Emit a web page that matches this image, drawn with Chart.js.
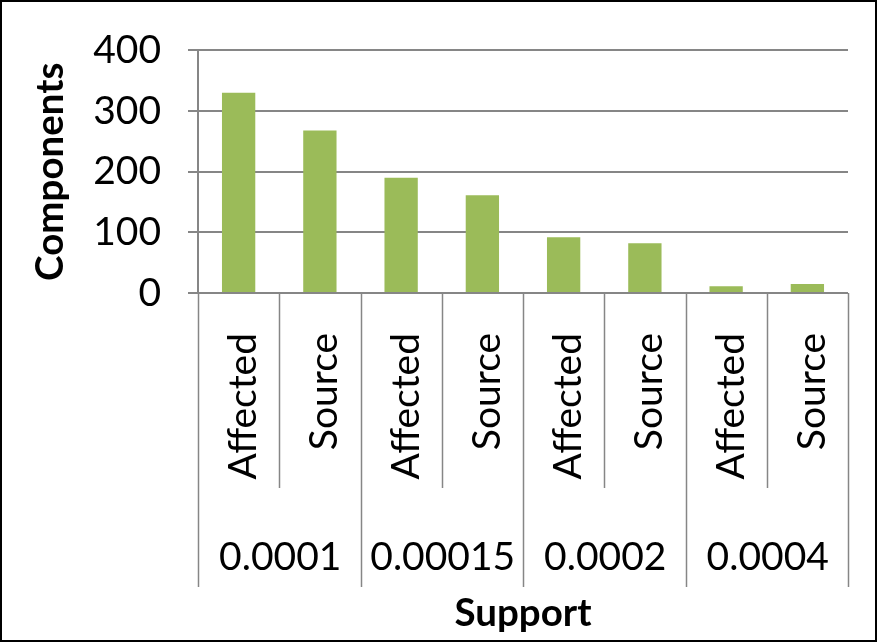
<!DOCTYPE html>
<html>
<head>
<meta charset="utf-8">
<script src="https://cdn.jsdelivr.net/npm/chart.js@4/dist/chart.umd.min.js"></script>
<style>
  html, body { margin: 0; padding: 0; background: #ffffff; }
  #wrap { width: 877px; height: 642px; }
</style>
</head>
<body>
<div id="wrap"><canvas id="chart" width="877" height="642"></canvas></div>
<script>
// Support thresholds (outer category level) and component roles (inner level)
const supportLevels = ['0.0001', '0.00015', '0.0002', '0.0004'];
const roles = ['Affected', 'Source'];

// Number of components per support threshold
const affectedCounts = [330, 190, 92, 11];
const sourceCounts = [268, 161, 82, 15];

// Y axis range
const yMin = 0, yMax = 400, yStep = 100;

// Flatten the two-level categories into one bar per (support, role)
const innerLabels = [];
const componentValues = [];
supportLevels.forEach((s, i) => {
  innerLabels.push(roles[0], roles[1]);
  componentValues.push(affectedCounts[i], sourceCounts[i]);
});

const FONT = 'Lato, "Open Sans", sans-serif';
const GRID = '#868686';
const TICK_SIZE = 39;
const TITLE_SIZE = 38.5;

// Separator lines under the category axis: short ones between roles,
// long ones between support groups.
const separatorPlugin = {
  id: 'separators',
  afterDraw(chart) {
    const xs = chart.scales.x;
    const xg = chart.scales.x2;
    const ctx = chart.ctx;
    const n = innerLabels.length;
    ctx.save();
    ctx.strokeStyle = GRID;
    ctx.lineWidth = 1.5;
    for (let i = 0; i <= n; i++) {
      const px = Math.round(xs.getPixelForValue(i - 0.5)) + 0.5;
      const isGroup = i % roles.length === 0;
      const bottom = isGroup ? xg.top + 99 : xs.bottom;
      ctx.beginPath();
      ctx.moveTo(px, xs.top);
      ctx.lineTo(px, bottom);
      ctx.stroke();
    }
    ctx.restore();
  }
};

// Black frame around the whole chart
const framePlugin = {
  id: 'frame',
  afterDraw(chart) {
    const ctx = chart.ctx;
    ctx.save();
    ctx.strokeStyle = '#000000';
    ctx.lineWidth = 2;
    ctx.strokeRect(1, 1, chart.width - 2, chart.height - 2);
    ctx.restore();
  }
};

// Category axes reserve no side padding for their labels
function fitCategoryAxis(height) {
  return (scale) => {
    scale.height = height;
    scale.paddingLeft = 0;
    scale.paddingRight = 0;
  };
}

new Chart(document.getElementById('chart'), {
  type: 'bar',
  data: {
    labels: innerLabels,
    datasets: [{
      label: 'Components',
      data: componentValues,
      backgroundColor: '#9bbb59',
      borderWidth: 0,
      barPercentage: 0.41,
      categoryPercentage: 1.0,
      xAxisID: 'x',
      yAxisID: 'y'
    }]
  },
  options: {
    responsive: false,
    animation: false,
    devicePixelRatio: 1,
    layout: { padding: { top: 48, right: 29, bottom: 5, left: 2 } },
    plugins: {
      legend: { display: false },
      tooltip: { enabled: false }
    },
    scales: {
      x: {
        type: 'category',
        position: 'bottom',
        weight: 0,
        offset: true,
        grid: { display: false, drawTicks: false },
        border: { display: false },
        ticks: {
          color: '#000000',
          font: { family: FONT, size: TICK_SIZE },
          minRotation: 90,
          maxRotation: 90,
          autoSkip: false,
          padding: 40,
          labelOffset: 5
        },
        afterFit: fitCategoryAxis(195)
      },
      x2: {
        type: 'category',
        position: 'bottom',
        weight: 1,
        labels: supportLevels,
        offset: true,
        grid: { display: false, drawTicks: false },
        border: { display: false },
        ticks: {
          color: '#000000',
          font: { family: FONT, size: TICK_SIZE },
          maxRotation: 0,
          minRotation: 0,
          autoSkip: false,
          padding: 46,
          labelOffset: 1
        },
        title: {
          display: true,
          text: 'Support',
          color: '#000000',
          font: { family: FONT, size: TITLE_SIZE, weight: 'bold' },
          padding: { top: 0, bottom: 0 }
        },
        afterFit: fitCategoryAxis(149)
      },
      y: {
        min: yMin,
        max: yMax,
        ticks: {
          stepSize: yStep,
          color: '#000000',
          font: { family: FONT, size: TICK_SIZE },
          padding: 27,
          autoSkip: false
        },
        grid: {
          color: GRID,
          lineWidth: 2,
          tickLength: 10,
          drawTicks: true
        },
        border: { color: GRID, width: 2 },
        title: {
          display: true,
          text: 'Components',
          color: '#000000',
          font: { family: FONT, size: TITLE_SIZE, weight: 'bold' },
          padding: { top: 25, bottom: 0 }
        },
        afterFit(scale) { scale.width = 196; }
      }
    }
  },
  plugins: [separatorPlugin, framePlugin]
});
</script>
</body>
</html>
